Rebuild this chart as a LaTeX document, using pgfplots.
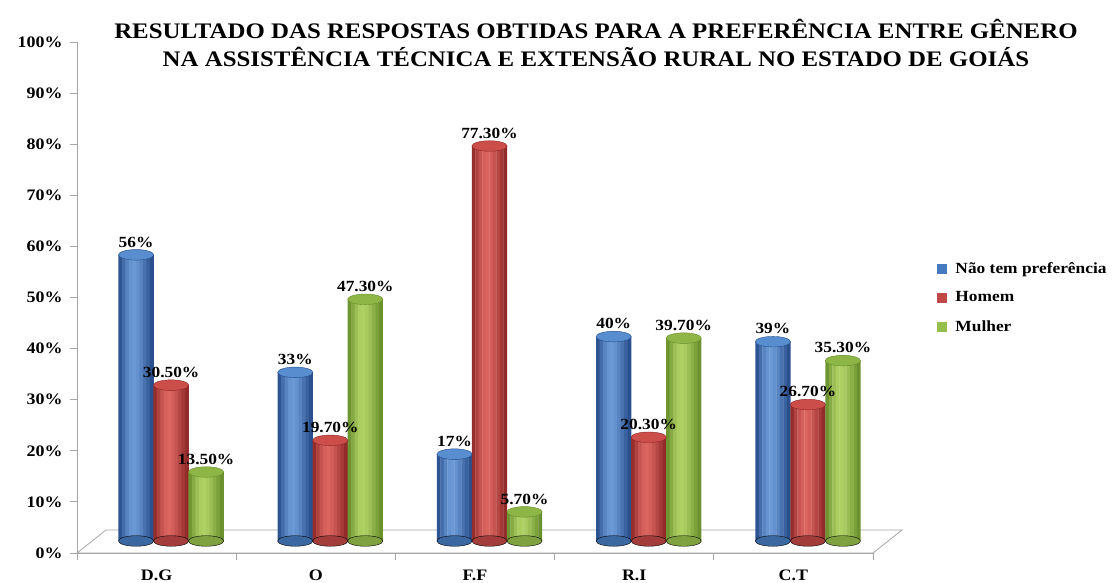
\documentclass[border=0pt]{standalone}
\usepackage{pgfplots}
\usepackage{pgfplotstable}
\pgfplotsset{compat=1.18}
\usepackage{fontspec}
\setmainfont{Liberation Serif}[FakeStretch=1.12]
\definecolor{blM}{RGB}{70,122,190}
\definecolor{blL}{RGB}{112,160,220}
\definecolor{blD}{RGB}{36,74,135}
\definecolor{blT}{RGB}{88,142,208}
\definecolor{rdM}{RGB}{192,72,70}
\definecolor{rdL}{RGB}{226,106,100}
\definecolor{rdD}{RGB}{140,38,38}
\definecolor{rdT}{RGB}{204,78,74}
\definecolor{grM}{RGB}{150,190,75}
\definecolor{grL}{RGB}{182,214,104}
\definecolor{grD}{RGB}{100,140,42}
\definecolor{grT}{RGB}{142,182,70}
\pgfplotstableread{
x y lab
0 56   56\%
1 33   33\%
2 17   17\%
3 40   40\%
4 39   39\%
}\blue
\pgfplotstableread{
x y lab
0 30.5 30.50\%
1 19.7 19.70\%
2 77.3 77.30\%
3 20.3 20.30\%
4 26.7 26.70\%
}\red
\pgfplotstableread{
x y lab
0 13.5 13.50\%
1 47.3 47.30\%
2 5.7  5.70\%
3 39.7 39.70\%
4 35.3 35.30\%
}\green
% one strip of a cylinder body: #1 table, #2 light, #3 dark, #4 centre shift, #5 offset, #6 mix
\newcommand\strip[6]{%
\addplot[forget plot, ybar, bar width=3.8pt, bar shift=0pt, draw=none, yshift=12pt, xshift=#4pt+#5pt, fill=#2!#6!#3] table[x=x,y=y]{#1};}
\newcommand\cyl[4]{%
\strip{#1}{#2}{#3}{#4}{-15.75}{12}%
\strip{#1}{#2}{#3}{#4}{-12.25}{42}%
\strip{#1}{#2}{#3}{#4}{-8.75}{68}%
\strip{#1}{#2}{#3}{#4}{-5.25}{86}%
\strip{#1}{#2}{#3}{#4}{-1.75}{92}%
\strip{#1}{#2}{#3}{#4}{1.75}{84}%
\strip{#1}{#2}{#3}{#4}{5.25}{68}%
\strip{#1}{#2}{#3}{#4}{8.75}{48}%
\strip{#1}{#2}{#3}{#4}{12.25}{28}%
\strip{#1}{#2}{#3}{#4}{15.75}{8}%
}
\begin{document}
\begin{tikzpicture}[x=1pt,y=1pt]
\path[use as bounding box] (0,0) rectangle (1112,583);
\node[font=\bfseries\fontsize{22.2}{28}\selectfont, align=center] at (596,540)
  {RESULTADO DAS RESPOSTAS OBTIDAS PARA A PREFERÊNCIA ENTRE GÊNERO\\NA ASSISTÊNCIA TÉCNICA E EXTENSÃO RURAL NO ESTADO DE GOIÁS};
\begin{axis}[
  at={(77pt,30pt)}, anchor=south west,
  scale only axis, width=796pt, height=511pt,
  xmin=-0.5, xmax=4.5, ymin=0, ymax=100,
  axis x line*=bottom, axis y line*=left,
  axis line style={gray!70, line width=0.8pt},
  ytick={0,10,...,100},
  yticklabels={0\%,10\%,20\%,30\%,40\%,50\%,60\%,70\%,80\%,90\%,100\%},
  xtick={-0.5,0.5,1.5,2.5,3.5,4.5},
  xticklabels={},
  extra x ticks={0,1,2,3,4},
  extra x tick labels={D.G,O,F.F,R.I,C.T},
  extra x tick style={major tick length=0pt},
  tick align=outside,
  major tick length=7pt,
  tick style={gray!70, line width=0.8pt},
  tick label style={font=\bfseries\fontsize{16}{16}\selectfont},
  yticklabel style={xshift=-4pt},
  xticklabel style={yshift=-13pt},
  clip=false,
  point meta=explicit symbolic,
  legend style={at={(1.077,0.5)}, anchor=west, draw=none, fill=none,
    font=\bfseries\fontsize{15.5}{15.5}\selectfont, row sep=13pt,
    /tikz/every odd column/.append style={column sep=6pt}},
  legend cell align=left,
]
\draw[gray!70, line width=0.8pt, fill=white] (axis cs:-0.5,0) -- (axis cs:4.5,0)
  -- ([shift={(29pt,23pt)}]axis cs:4.5,0) -- ([shift={(29pt,23pt)}]axis cs:-0.5,0) -- cycle;
% legend carriers (invisible)
\addplot[ybar, bar width=35pt, bar shift=0pt, draw=none, fill=none,
  legend image code/.code={\fill[blM] (0pt,-5pt) rectangle (10pt,5pt);}]
  table[x=x, y=y] {\blue};
\addlegendentry{Não tem preferência}
\addplot[ybar, bar width=35pt, bar shift=0pt, draw=none, fill=none,
  legend image code/.code={\fill[rdM] (0pt,-5pt) rectangle (10pt,5pt);}]
  table[x=x, y=y] {\red};
\addlegendentry{Homem}
\addplot[ybar, bar width=35pt, bar shift=0pt, draw=none, fill=none,
  legend image code/.code={\fill[grM] (0pt,-5pt) rectangle (10pt,5pt);}]
  table[x=x, y=y] {\green};
\addlegendentry{Mulher}
% bottoms
\addplot[forget plot, only marks, mark=*, mark size=17.6pt, xshift=-20.5pt, yshift=12pt,
  mark options={yscale=0.3, draw=none, fill=blM!85!black}]
  table[x=x, y expr=0] {\blue};
\addplot[forget plot, only marks, mark=*, mark size=17.6pt, xshift=14.5pt, yshift=12pt,
  mark options={yscale=0.3, draw=none, fill=rdM!85!black}]
  table[x=x, y expr=0] {\red};
\addplot[forget plot, only marks, mark=*, mark size=17.6pt, xshift=49.5pt, yshift=12pt,
  mark options={yscale=0.3, draw=none, fill=grM!85!black}]
  table[x=x, y expr=0] {\green};
% bodies
\cyl{\blue}{blL}{blD}{-20.5}
\cyl{\red}{rdL}{rdD}{14.5}
\cyl{\green}{grL}{grD}{49.5}
% tops
\addplot[forget plot, only marks, mark=*, mark size=17.6pt, xshift=-20.5pt, yshift=12pt,
  mark options={yscale=0.3, draw=blD, line width=0.4pt, fill=blT}]
  table[x=x, y=y] {\blue};
\addplot[forget plot, only marks, mark=*, mark size=17.6pt, xshift=14.5pt, yshift=12pt,
  mark options={yscale=0.3, draw=rdD, line width=0.4pt, fill=rdT}]
  table[x=x, y=y] {\red};
\addplot[forget plot, only marks, mark=*, mark size=17.6pt, xshift=49.5pt, yshift=12pt,
  mark options={yscale=0.3, draw=grD, line width=0.4pt, fill=grT}]
  table[x=x, y=y] {\green};
% value labels
\addplot[forget plot, draw=none, mark=none, xshift=-20.5pt, yshift=12pt,
  nodes near coords, every node near coord/.append style={font=\bfseries\fontsize{15.5}{15.5}\selectfont, yshift=4pt, text=black}]
  table[x=x, y=y, meta=lab] {\blue};
\addplot[forget plot, draw=none, mark=none, xshift=14.5pt, yshift=12pt,
  nodes near coords, every node near coord/.append style={font=\bfseries\fontsize{15.5}{15.5}\selectfont, yshift=4pt, text=black}]
  table[x=x, y=y, meta=lab] {\red};
\addplot[forget plot, draw=none, mark=none, xshift=49.5pt, yshift=12pt,
  nodes near coords, every node near coord/.append style={font=\bfseries\fontsize{15.5}{15.5}\selectfont, yshift=4pt, text=black}]
  table[x=x, y=y, meta=lab] {\green};
\end{axis}
\end{tikzpicture}
\end{document}
